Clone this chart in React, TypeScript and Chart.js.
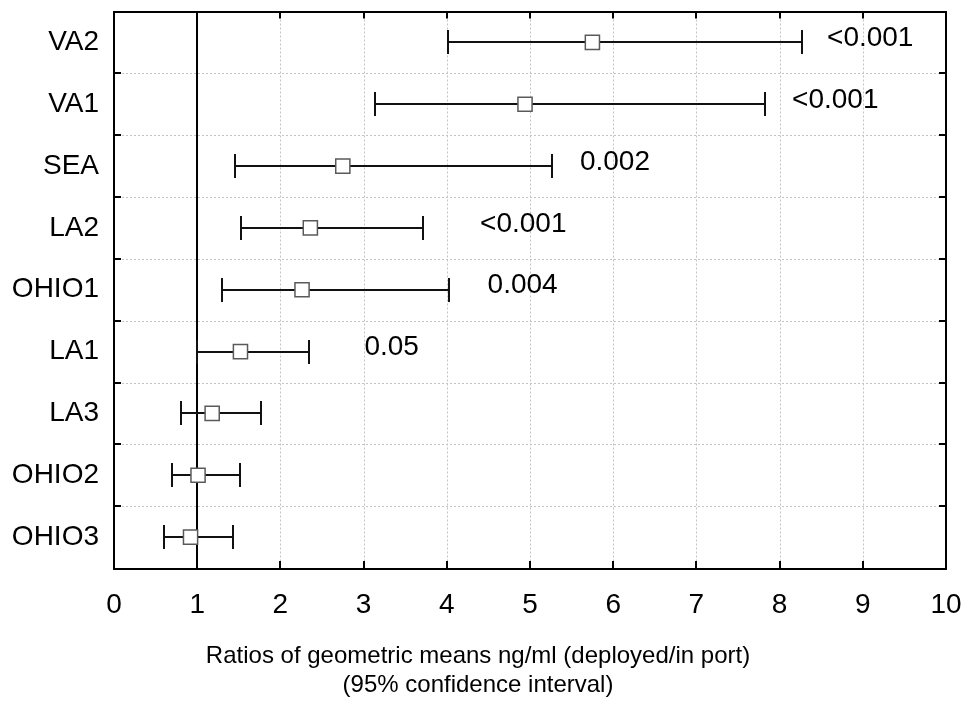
import React, { useEffect, useRef } from 'react';
import { Chart, registerables } from 'chart.js';

Chart.register(...registerables);

const sites = ['VA2', 'VA1', 'SEA', 'LA2', 'OHIO1', 'LA1', 'LA3', 'OHIO2', 'OHIO3'];
const ratioMean = [5.75, 4.94, 2.75, 2.36, 2.26, 1.52, 1.18, 1.01, 0.92];
const ciLow = [4.02, 3.14, 1.45, 1.53, 1.3, 1.0, 0.8, 0.7, 0.6];
const ciHigh = [8.27, 7.82, 5.26, 3.71, 4.03, 2.34, 1.77, 1.52, 1.43];
const pValues = ['<0.001', '<0.001', '0.002', '<0.001', '0.004', '0.05', '', '', ''];
const pLabelAt = [8.57, 8.15, 5.6, 4.4, 4.49, 3.01, 0, 0, 0];
const xTickValues = [0, 1, 2, 3, 4, 5, 6, 7, 8, 9, 10];
const referenceRatio = 1;
const titleLines = ['Ratios of geometric means ng/ml (deployed/in port)', '(95% confidence interval)'];

const FONT = "'Liberation Sans', Arial, Helvetica, sans-serif";

const forestPlugin = {
  id: 'forest',
  beforeDatasetsDraw(chart: any) {
    const { ctx, chartArea: a, scales } = chart;
    const x = scales.x;
    const y = scales.y;
    const line = (x1: number, y1: number, x2: number, y2: number) => {
      ctx.beginPath();
      ctx.moveTo(x1, y1);
      ctx.lineTo(x2, y2);
      ctx.stroke();
    };
    ctx.save();
    // dotted grid
    ctx.strokeStyle = '#c4c4c4';
    ctx.lineWidth = 1;
    ctx.setLineDash([2, 2]);
    xTickValues.forEach((v) => {
      if (v === xTickValues[0] || v === xTickValues[xTickValues.length - 1]) return;
      const px = Math.round(x.getPixelForValue(v)) + 0.5;
      line(px, a.top, px, a.bottom);
    });
    for (let i = 1; i < sites.length; i++) {
      const py = Math.round((y.getPixelForValue(i - 1) + y.getPixelForValue(i)) / 2) + 0.5;
      line(a.left, py, a.right, py);
    }
    ctx.setLineDash([]);
    // reference line
    ctx.strokeStyle = '#000';
    ctx.lineWidth = 2;
    const rx = Math.round(x.getPixelForValue(referenceRatio));
    line(rx, a.top, rx, a.bottom);
    // error bars
    ctx.strokeStyle = '#111';
    ctx.lineWidth = 2;
    sites.forEach((_, i) => {
      const py = Math.round(y.getPixelForValue(i));
      const lo = Math.round(x.getPixelForValue(ciLow[i]));
      const hi = Math.round(x.getPixelForValue(ciHigh[i]));
      line(lo, py, hi, py);
      line(lo, py - 12, lo, py + 12);
      line(hi, py - 12, hi, py + 12);
    });
    ctx.restore();
  },
  afterDatasetsDraw(chart: any) {
    const { ctx, chartArea: a, scales } = chart;
    const x = scales.x;
    const y = scales.y;
    const line = (x1: number, y1: number, x2: number, y2: number) => {
      ctx.beginPath();
      ctx.moveTo(x1, y1);
      ctx.lineTo(x2, y2);
      ctx.stroke();
    };
    ctx.save();
    ctx.strokeStyle = '#000';
    ctx.lineWidth = 2;
    ctx.strokeRect(Math.round(a.left), Math.round(a.top), Math.round(a.width), Math.round(a.height));
    xTickValues.forEach((v) => {
      const px = Math.round(x.getPixelForValue(v));
      line(px, a.top, px, a.top + 7);
      line(px, a.bottom, px, a.bottom - 7);
    });
    for (let i = 1; i < sites.length; i++) {
      const py = Math.round((y.getPixelForValue(i - 1) + y.getPixelForValue(i)) / 2);
      line(a.left, py, a.left + 7, py);
      line(a.right, py, a.right - 7, py);
    }
    // p-values
    ctx.fillStyle = '#000';
    ctx.font = `28px ${FONT}`;
    ctx.textAlign = 'left';
    ctx.textBaseline = 'middle';
    pValues.forEach((p, i) => {
      if (!p) return;
      ctx.fillText(p, x.getPixelForValue(pLabelAt[i]), y.getPixelForValue(i) - 4);
    });
    // axis title
    ctx.font = `24px ${FONT}`;
    ctx.textAlign = 'center';
    titleLines.forEach((t, i) => {
      ctx.fillText(t, 478, 656 + i * 29);
    });
    ctx.restore();
  },
};

export default function App() {
  const ref = useRef<HTMLCanvasElement | null>(null);
  useEffect(() => {
    if (!ref.current) return;
    const chart = new Chart(ref.current, {
      type: 'scatter',
      data: {
        labels: sites,
        datasets: [
          {
            data: sites.map((s, i) => ({ x: ratioMean[i], y: s })) as any,
            pointStyle: 'rect',
            pointRadius: 10,
            pointHoverRadius: 10,
            pointBackgroundColor: '#fff',
            pointBorderColor: '#5a5a5a',
            pointBorderWidth: 1.5,
          },
        ],
      },
      options: {
        animation: false,
        responsive: false,
        devicePixelRatio: 1,
        layout: { padding: { top: 10, right: 18, left: 0, bottom: 0 } },
        plugins: { legend: { display: false }, tooltip: { enabled: false } },
        scales: {
          x: {
            type: 'linear',
            min: 0,
            max: 10,
            afterBuildTicks: (s: any) => {
              s.ticks = xTickValues.map((v) => ({ value: v }));
            },
            afterFit: (s: any) => {
              s.height = 138;
              s.paddingLeft = 0;
              s.paddingRight = 0;
            },
            grid: { display: false, drawTicks: false },
            border: { display: false },
            ticks: { color: '#000', font: { family: FONT, size: 28 }, padding: 20, maxRotation: 0 },
          },
          y: {
            type: 'category',
            labels: sites,
            offset: true,
            afterFit: (s: any) => {
              s.width = 114;
              s.paddingTop = 0;
              s.paddingBottom = 0;
            },
            grid: { display: false, drawTicks: false },
            border: { display: false },
            ticks: { color: '#000', font: { family: FONT, size: 28 }, padding: 15 },
          },
        },
      },
      plugins: [forestPlugin],
    });
    return () => chart.destroy();
  }, []);
  return (
    <div style={{ position: 'absolute', left: 0, top: 0, width: 964, height: 706, background: '#fff' }}>
      <canvas ref={ref} width={964} height={706} style={{ display: 'block' }} />
    </div>
  );
}
